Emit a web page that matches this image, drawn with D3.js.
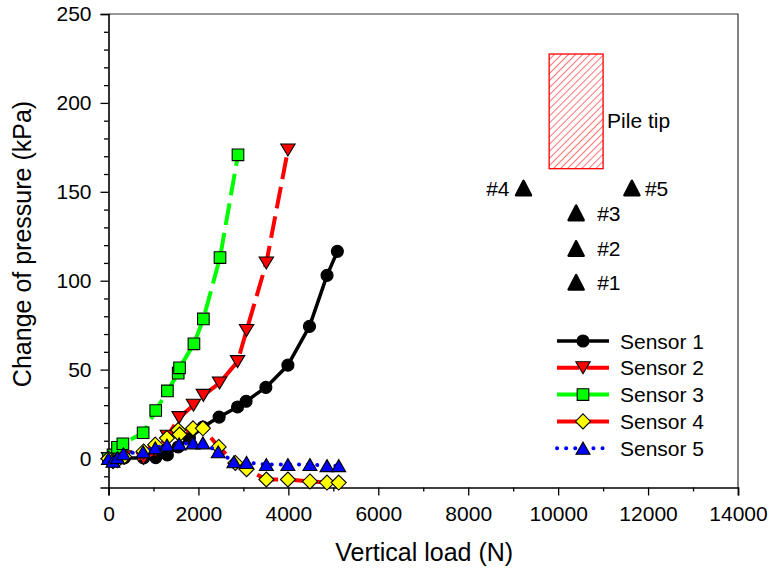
<!DOCTYPE html>
<html>
<head>
<meta charset="utf-8">
<script src="https://cdn.jsdelivr.net/npm/d3@7"></script>
<style>
  body { margin: 0; background: #fff; }
  svg { display: block; font-family: Arial, "Liberation Sans", sans-serif; }
</style>
</head>
<body>
<svg id="chart" width="772" height="579"></svg>
<script>
// ---------------- data ----------------
const xTicks = [0, 2000, 4000, 6000, 8000, 10000, 12000, 14000];
const yTicks = [0, 50, 100, 150, 200, 250];

const sensor1Load = [0, 100, 200, 350, 780, 1050, 1310, 1550, 1800, 2100, 2460, 2870, 3060, 3500, 3990, 4470, 4860, 5090];
const sensor1Val  = [0, 0, 0, 0.3, 0.3, 0.5, 2, 6.5, 11.5, 17.7, 23.3, 29, 32.2, 40, 52.5, 74.3, 103, 116.5];

const sensor2Load = [0, 100, 200, 350, 780, 1050, 1310, 1570, 1890, 2110, 2470, 2870, 3070, 3510, 3990];
const sensor2Val  = [0, 0, 0.5, 1, 0, 4, 12.5, 23, 30, 35.5, 42.5, 54.5, 72, 110, 173.5];

const sensor3Load = [0, 100, 200, 320, 770, 1050, 1310, 1550, 1580, 1900, 2110, 2480, 2880];
const sensor3Val  = [0, 2, 6.3, 8.3, 14.5, 27, 38, 48, 51, 64.5, 78.5, 113, 170.8];

const sensor4Load = [0, 100, 200, 350, 780, 1040, 1300, 1550, 1580, 1880, 2100, 2450, 2820, 3070, 3510, 3990, 4480, 4860, 5120];
const sensor4Val  = [0, -1.5, -1, 1, 4, 7.8, 11.5, 16, 13.5, 17, 17, 6.5, -2.5, -6, -11.8, -11.8, -12.9, -13.5, -13.5];

const sensor5Load = [0, 100, 200, 330, 770, 1040, 1300, 1570, 1880, 2100, 2440, 2790, 3070, 3510, 3990, 4480, 4860, 5120];
const sensor5Val  = [0, -1.5, 0.5, 2.7, 3.8, 6, 7.6, 8.2, 8.8, 8.8, 3.8, -1.8, -2.2, -3.4, -3.4, -3.4, -4, -4];

const seriesNames = ["Sensor 1", "Sensor 2", "Sensor 3", "Sensor 4", "Sensor 5"];

// sketch annotation (in data units)
const pileTipX = [9800, 11000];
const pileTipY = [163, 227.5];
const pileLabel = "Pile tip";
const pileLabelY = 190;
const sensorMarkLabels = ["#1", "#2", "#3", "#4", "#5"];
const sensorMarkX = [10400, 10400, 10400, 9230, 11640];
const sensorMarkY = [99, 118, 138, 152, 152];

// ---------------- styles ----------------
const styles = [
  { color: "#000000", fill: "#000000", dash: null, width: 3.5, marker: "circle" },
  { color: "#ff0000", fill: "#ff0000", dash: "22,8", width: 4, marker: "tridown" },
  { color: "#00ff00", fill: "#00ff00", dash: "22,8", width: 4, marker: "square" },
  { color: "#ff0000", fill: "#ffff00", dash: "22,8", width: 4, marker: "diamond" },
  { color: "#0000ff", fill: "#0000ff", dash: "0.1,9", width: 4, marker: "triup", cap: "round" }
];

const series = [
  [sensor1Load, sensor1Val],
  [sensor2Load, sensor2Val],
  [sensor3Load, sensor3Val],
  [sensor4Load, sensor4Val],
  [sensor5Load, sensor5Val]
].map(([xs, ys], i) => ({ name: seriesNames[i], pts: xs.map((x, j) => ({ x, y: ys[j] })), st: styles[i] }));

// ---------------- layout ----------------
const svg = d3.select("#chart");
const L = 108.5, R = 738, T = 14, B = 487.5;
const x = d3.scaleLinear().domain([0, 14000]).range([L, R]);
const y = d3.scaleLinear().domain([-16.3, 250]).range([B, T]);

// frame (top / right)
svg.append("path")
  .attr("d", `M${L},${T}H${R}V${B}`)
  .attr("fill", "none").attr("stroke", "#333").attr("stroke-width", 1.2);

// minor ticks
const xMinor = d3.range(1000, 14000, 2000);
const yMinor = d3.range(-10, 250, 10).filter(v => v % 50 !== 0);

const gx = svg.append("g").attr("transform", `translate(0,${B})`);
gx.call(d3.axisBottom(x).tickValues(xMinor).tickSize(4).tickFormat(""));
gx.call(g => g.selectAll(".domain").remove());
const gx2 = svg.append("g").attr("transform", `translate(0,${B})`)
  .call(d3.axisBottom(x).tickValues(xTicks).tickSize(8).tickPadding(11).tickFormat(d3.format("d")));

const gy = svg.append("g").attr("transform", `translate(${L},0)`);
gy.call(d3.axisLeft(y).tickValues(yMinor).tickSize(4.5).tickFormat(""));
gy.call(g => g.selectAll(".domain").remove());
const gy2 = svg.append("g").attr("transform", `translate(${L},0)`)
  .call(d3.axisLeft(y).tickValues(yTicks).tickSize(8).tickPadding(9).tickFormat(d3.format("d")));

svg.selectAll(".tick line").attr("stroke", "#000").attr("stroke-width", 1.3);
svg.selectAll(".domain").attr("stroke", "#000").attr("stroke-width", 1.6);
svg.selectAll(".tick text").attr("font-size", 21).attr("fill", "#000")
  .attr("font-family", "Arial, 'Liberation Sans', sans-serif");

// axis titles
svg.append("text").attr("x", (L + R) / 2 + 1).attr("y", 561)
  .attr("text-anchor", "middle").attr("font-size", 25).text("Vertical load (N)");
svg.append("text").attr("transform", "translate(31,244) rotate(-90)")
  .attr("text-anchor", "middle").attr("font-size", 25).text("Change of pressure (kPa)");

// ---------------- markers ----------------
function markerPath(type, cx, cy) {
  switch (type) {
    case "circle": { const r = 6; return `M${cx - r},${cy}a${r},${r} 0 1,0 ${2 * r},0a${r},${r} 0 1,0 ${-2 * r},0Z`; }
    case "square": { const s = 5.8; return `M${cx - s},${cy - s}H${cx + s}V${cy + s}H${cx - s}Z`; }
    case "diamond": { const s = 7.5; return `M${cx},${cy - s}L${cx + s},${cy}L${cx},${cy + s}L${cx - s},${cy}Z`; }
    case "tridown": { const w = 7.2, h = 12; return `M${cx - w},${cy - h / 2}H${cx + w}L${cx},${cy + h / 2}Z`; }
    case "triup": { const w = 7, h = 12; return `M${cx - w},${cy + h / 2}H${cx + w}L${cx},${cy - h / 2}Z`; }
  }
}

const line = d3.line().x(d => x(d.x)).y(d => y(d.y));

series.forEach(s => {
  const g = svg.append("g");
  g.append("path").datum(s.pts)
    .attr("d", line)
    .attr("fill", "none")
    .attr("stroke", s.st.color)
    .attr("stroke-width", s.st.width)
    .attr("stroke-dasharray", s.st.dash)
    .attr("stroke-linecap", s.st.cap || "butt")
    .attr("stroke-linejoin", "round");
  g.selectAll("path.m").data(s.pts).join("path").attr("class", "m")
    .attr("d", d => markerPath(s.st.marker, x(d.x), y(d.y)))
    .attr("fill", s.st.fill)
    .attr("stroke", "#000").attr("stroke-width", 1.1);
});

// ---------------- legend ----------------
const legY0 = 341, legDy = 26.8;
series.forEach((s, i) => {
  const ly = legY0 + i * legDy;
  const g = svg.append("g");
  g.append("line").attr("x1", 557).attr("x2", 609).attr("y1", ly).attr("y2", ly)
    .attr("stroke", s.st.color).attr("stroke-width", s.st.width)
    .attr("stroke-dasharray", s.st.dash).attr("stroke-linecap", s.st.cap || "butt");
  g.append("path").attr("d", markerPath(s.st.marker, 583, ly))
    .attr("fill", s.st.fill).attr("stroke", "#000").attr("stroke-width", 1.1);
  g.append("text").attr("x", 620).attr("y", ly).attr("dy", "0.36em")
    .attr("font-size", 21).text(s.name);
});

// ---------------- pile tip sketch ----------------
const defs = svg.append("defs");
const pat = defs.append("pattern").attr("id", "hatch").attr("patternUnits", "userSpaceOnUse")
  .attr("width", 5).attr("height", 5).attr("patternTransform", "rotate(45)");
pat.append("line").attr("x1", 0).attr("y1", 0).attr("x2", 0).attr("y2", 5)
  .attr("stroke", "#ff0000").attr("stroke-width", 1.1);

svg.append("rect")
  .attr("x", x(pileTipX[0])).attr("y", y(pileTipY[1]))
  .attr("width", x(pileTipX[1]) - x(pileTipX[0]))
  .attr("height", y(pileTipY[0]) - y(pileTipY[1]))
  .attr("fill", "url(#hatch)").attr("stroke", "#ff0000").attr("stroke-width", 1.3);
svg.append("text").attr("x", x(pileTipX[1]) + 4).attr("y", y(pileLabelY)).attr("dy", "0.36em")
  .attr("font-size", 21).text(pileLabel);

sensorMarkLabels.forEach((lab, i) => {
  const cx = x(sensorMarkX[i]), cy = y(sensorMarkY[i]);
  svg.append("path")
    .attr("d", `M${cx - 7.5},${cy + 7}H${cx + 7.5}L${cx},${cy - 7.5}Z`)
    .attr("fill", "#000").attr("stroke", "#000").attr("stroke-width", 2.5).attr("stroke-linejoin", "round");
  const left = i === 3;
  svg.append("text")
    .attr("x", left ? cx - 14 : cx + (i === 4 ? 13 : 21)).attr("y", cy).attr("dy", "0.36em")
    .attr("text-anchor", left ? "end" : "start")
    .attr("font-size", 21).text(lab);
});
</script>
</body>
</html>
